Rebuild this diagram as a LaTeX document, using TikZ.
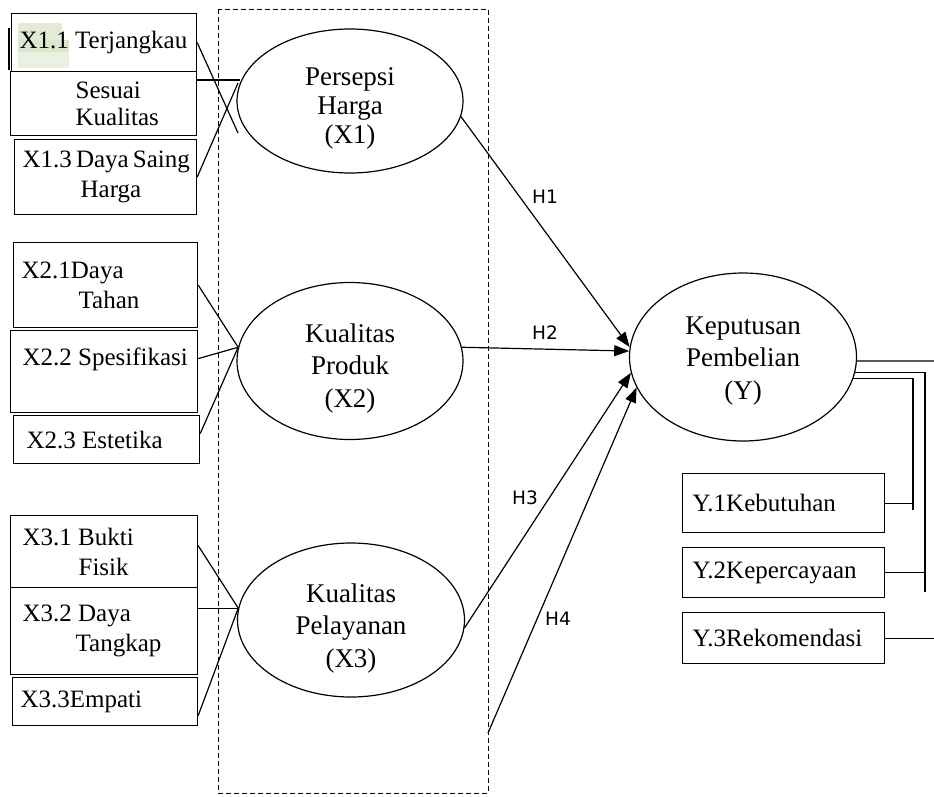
\documentclass[tikz,border=0pt]{standalone}
\usepackage{fontspec}
\setmainfont{Liberation Serif}
\newfontfamily\hfont{DejaVu Sans}
\usetikzlibrary{shapes.geometric, arrows.meta}

\definecolor{hlA}{RGB}{228,234,214}
\definecolor{hlB}{RGB}{220,230,204}
\definecolor{hlC}{RGB}{236,240,226}

\newcommand{\boxfont}{\fontsize{25}{30}\selectfont\hyphenpenalty=10000\relax\exhyphenpenalty=10000\relax}

\tikzset{
	indbox/.style = {draw, line width=1.2pt, rectangle, anchor=north west, align=flush left, inner xsep=8pt, inner ysep=0pt, font=\boxfont},
	latent/.style = {draw, line width=1.2pt, ellipse, inner sep=0pt},
	lvtext/.style = {align=center, inner sep=0pt, font=\fontsize{27}{32.5}\selectfont},
	hyp/.style = {line width=1.2pt, -{Triangle[length=15pt, width=11pt]}},
	hlab/.style = {inner sep=0pt, font=\hfont\fontsize{18.5}{20}\selectfont},
	link/.style = {line width=1.2pt}
}

\begin{document}
\begin{tikzpicture}[x=1pt, y=-1pt]
\useasboundingbox (0,0) rectangle (934,796);

% highlight behind X1.1
\fill[hlC] (18,52) rectangle (69,68);
\fill[hlB] (18,40) rectangle (69,52);
\fill[hlA] (18,23) rectangle (62,40);

% dashed frame round the latent variables
\draw[dash pattern=on 5pt off 3pt, line width=1pt] (218,9) rectangle (488,793);

% indicators X1
\node[indbox, minimum width=185pt, minimum height=58pt, text width=169pt] (X11) at (11,13) {X1.1~Terjangkau};
\node[indbox, minimum width=186pt, minimum height=64pt, text width=170pt] (X12) at (10,71) {\hspace*{57pt}Sesuai\\[-3pt]\hspace*{57pt}Kualitas};
\node[indbox, minimum width=182pt, minimum height=75pt, text width=166pt] (X13) at (14,139) {X1.3~Daya~Saing\\\hspace*{58pt}Harga};
\draw[link] (9,28) -- (9,70);

% indicators X2
\node[indbox, minimum width=184pt, minimum height=85pt, text width=168pt] (X21) at (13,242) {X2.1Daya\\\hspace*{57pt}Tahan};
\node[indbox, minimum width=187pt, minimum height=82pt, text width=171pt] (X22) at (10,330) {\hspace*{4pt}X2.2~Spesifikasi\\\mbox{}};
\node[indbox, minimum width=186pt, minimum height=48pt, text width=170pt] (X23) at (13,415) {\hspace*{5pt}X2.3~Estetika};

% indicators X3
\node[indbox, minimum width=187pt, minimum height=72pt, text width=171pt] (X31) at (10,515) {\hspace*{4pt}X3.1~Bukti\\\hspace*{60pt}Fisik};
\node[indbox, minimum width=187pt, minimum height=87pt, text width=171pt] (X32) at (10,587) {\hspace*{4pt}X3.2~Daya\\\hspace*{57pt}Tangkap};
\node[indbox, minimum width=185pt, minimum height=48pt, text width=169pt] (X33) at (12,677) {X3.3Empati};

% indicators Y
\node[indbox, minimum width=202pt, minimum height=59pt, text width=186pt] (Y1) at (682,473) {\hspace*{2pt}Y.1Kebutuhan};
\node[indbox, minimum width=202pt, minimum height=50pt, text width=186pt] (Y2) at (682,547) {\hspace*{2pt}Y.2Kepercayaan};
\node[indbox, minimum width=202pt, minimum height=51pt, text width=186pt] (Y3) at (682,612) {\hspace*{2pt}Y.3Rekomendasi};

% latent variables
\node[latent, minimum width=226pt, minimum height=144pt] (X1) at (350,101) {};
\node[latent, minimum width=226pt, minimum height=157pt] (X2) at (350,361) {};
\node[latent, minimum width=227pt, minimum height=154pt] (X3) at (351,620) {};
\node[latent, minimum width=227pt, minimum height=168pt] (Y) at (743,357) {};

\node[lvtext, font=\fontsize{27}{29}\selectfont] (X1t) at ([yshift=-7pt]X1.center) {Persepsi\\Harga\\(X1)};
\node[lvtext] (X2t) at ([yshift=-7pt]X2.center) {Kualitas\\Produk\\(X2)};
\node[lvtext] (X3t) at ([yshift=-8pt]X3.center) {Kualitas\\Pelayanan\\(X3)};
\node[lvtext] (Yt) at ([yshift=-4pt]Y.center) {Keputusan\\Pembelian\\(Y)};

% loadings X1
\coordinate (x1a) at (238,133);
\coordinate (x1b) at (240,80);
\coordinate (x1c) at (238,83);
\draw[link] (X11.east) -- (x1a);
\draw[link] ([yshift=-9pt]X12.north east) -- (x1b);
\draw[link] (X13.east) -- (x1c);

% loadings X2
\foreach \b/\s in {X21/0, X22/13, X23/6} {
	\draw[link] ([yshift=\s pt]\b.east) -- (X2.173);
}

% loadings X3
\foreach \b/\s in {X31/6, X33/-14} {
	\draw[link] ([yshift=\s pt]\b.east) -- (X3.174);
}
\draw[link] (X3.174) -- (X3.174 -| X32.east);

% hypotheses
\coordinate (h4s) at (488,733);
\draw[hyp] (X1.-8) -- (Y.175);
\draw[hyp] (X2.7) -- (Y.177);
\draw[hyp] (X3.-4) -- (Y.188);
\draw[hyp] (h4s) -- (Y.196);
\node[hlab] (h1) at (545,197) {H1};
\node[hlab] (h2) at (545,333) {H2};
\node[hlab] (h3) at (525,498) {H3};
\node[hlab] (h4) at (558,619) {H4};

% loadings Y
\coordinate (yr1) at (934,361);
\coordinate (y2v) at (925,592);
\coordinate (y1v) at (913,510);
\coordinate (yr3) at (934,638);
\draw[link] (Y.-2) -- (yr1);
\draw[link] (Y.-8) -| (y2v);
\draw[link] (Y2.east) -- (Y2.east -| y2v);
\draw[link] (Y.-11) -| (y1v);
\draw[link] (Y1.east) -- (Y1.east -| y1v);
\draw[link] (Y3.east) -- (Y3.east -| yr3);
\end{tikzpicture}
\end{document}
